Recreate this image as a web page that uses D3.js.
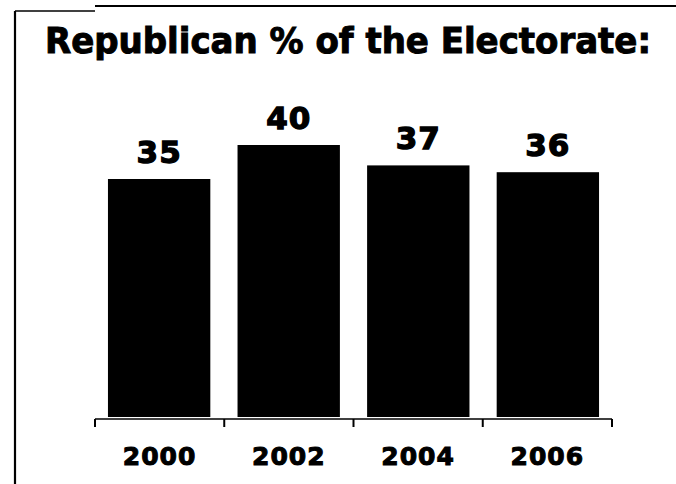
<!DOCTYPE html>
<html>
<head>
<meta charset="utf-8">
<script src="https://cdn.jsdelivr.net/npm/d3@7/dist/d3.min.js"></script>
<style>
  html, body { margin: 0; padding: 0; background: #fff; }
  svg { display: block; }
  text { font-family: "DejaVu Sans", Verdana, sans-serif; font-weight: bold; fill: #000; stroke: #000; }
</style>
</head>
<body>
<svg id="chart" width="676" height="484"></svg>
<script>
const titleText = "Republican % of the Electorate:";
const years = ["2000", "2002", "2004", "2006"];
const values = [35, 40, 37, 36];

const svg = d3.select("#chart");
const W = 676, H = 484;

svg.append("rect").attr("width", W).attr("height", H).attr("fill", "#fff");

// frame lines (scanned slide border)
svg.append("line").attr("x1", 15).attr("x2", 15).attr("y1", 11).attr("y2", H)
  .attr("stroke", "#000").attr("stroke-width", 2.2);
svg.append("line").attr("x1", 15).attr("x2", 95).attr("y1", 11).attr("y2", 11)
  .attr("stroke", "#000").attr("stroke-width", 1.5);
svg.append("line").attr("x1", 95).attr("x2", W).attr("y1", 6).attr("y2", 6)
  .attr("stroke", "#000").attr("stroke-width", 2);

// title
svg.append("text")
  .attr("x", 45).attr("y", 53)
  .attr("font-size", 35)
  .attr("stroke-width", 1)
  .attr("textLength", 606)
  .attr("lengthAdjust", "spacingAndGlyphs")
  .text(titleText);

// scales
const axisX = d3.scaleBand().domain(years).range([95, 612]).padding(0);
const x = d3.scaleBand().domain(years).range([95, 612]).paddingInner(0.21).paddingOuter(0.1);
const y = d3.scaleLinear().domain([0, 45]).range([417, 111]);

// bars
svg.selectAll("rect.bar").data(values).join("rect")
  .attr("class", "bar")
  .attr("x", (d, i) => x(years[i]))
  .attr("width", x.bandwidth())
  .attr("y", d => y(d))
  .attr("height", d => y(0) - y(d))
  .attr("fill", "#000");

// value labels
svg.selectAll("text.val").data(values).join("text")
  .attr("class", "val")
  .attr("x", (d, i) => x(years[i]) + x.bandwidth() / 2)
  .attr("y", d => y(d) - 16)
  .attr("text-anchor", "middle")
  .attr("font-size", 31)
  .attr("stroke-width", 1.3)
  .attr("letter-spacing", 1)
  .text(d => d);

// axis baseline with ticks at category boundaries
const axisY = 419;
const g = svg.append("g");
g.append("line")
  .attr("x1", axisX.range()[0]).attr("x2", axisX.range()[1])
  .attr("y1", axisY).attr("y2", axisY)
  .attr("stroke", "#000").attr("stroke-width", 1.6);
const bounds = years.map(d => axisX(d)).concat([axisX.range()[1]]);
g.selectAll("line.tick").data(bounds).join("line")
  .attr("class", "tick")
  .attr("x1", d => d).attr("x2", d => d)
  .attr("y1", axisY).attr("y2", axisY + 8)
  .attr("stroke", "#000").attr("stroke-width", 2);

// category labels
svg.selectAll("text.cat").data(years).join("text")
  .attr("class", "cat")
  .attr("x", d => axisX(d) + axisX.bandwidth() / 2)
  .attr("y", 465)
  .attr("text-anchor", "middle")
  .attr("font-size", 25)
  .attr("stroke-width", 1)
  .attr("letter-spacing", 1)
  .text(d => d);
</script>
</body>
</html>
